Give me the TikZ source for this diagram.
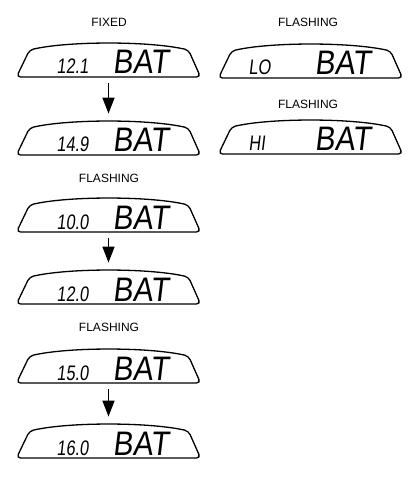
\documentclass[tikz,border=0pt]{standalone}
\usepackage{fontspec}
\setmainfont{Liberation Sans}
\newfontfamily\lcddigits[FakeSlant=0.12,FakeStretch=0.78]{Liberation Sans}
\newfontfamily\lcdword[FakeSlant=0.12,FakeStretch=0.88]{Liberation Sans}
\usetikzlibrary{arrows.meta}
\tikzset{
  panel/.style={minimum width=184pt,minimum height=34pt,inner sep=0pt,anchor=south},
  outline/.style={line width=1.3pt,rounded corners=4pt},
  state/.style={font=\fontsize{12}{14}\selectfont},
  flow/.style={line width=1.6pt,-{Triangle[length=16pt,width=12pt]},shorten <=6pt,shorten >=7pt}
}
% one LCD panel: name, bottom centre, left text, x offset of left text
\newcommand\lcdpanel[4]{%
  \node[panel] (#1) at (#2) {};
  \draw[outline,shift={(#1.south)}] (-92,0) -- (-79,-27)
    .. controls (-40,-36) and (40,-36) .. (80,-27) -- (92,0) -- cycle;
  \node[anchor=base west,inner sep=0pt,font=\lcddigits\fontsize{21}{21}\selectfont] (#1-v) at ([shift={(#4,-3)}]#1.south) {#3};
  \node[anchor=base west,inner sep=0pt,font=\lcdword\fontsize{34}{34}\selectfont] (#1-w) at ([shift={(4,-3)}]#1.south) {BAT};}
\begin{document}
\begin{tikzpicture}[x=1pt,y=-1pt]
\useasboundingbox (0,0) rectangle (418,478);
% left column
\node[state] (fixed) at (109,22) {FIXED};
\node[state] (flasha) at (109,178) {FLASHING};
\node[state] (flashb) at (109,327) {FLASHING};
\foreach \n/\y/\v in {d1/77/12.1,d2/155/14.9,d3/232/10.0,d4/304/12.0,d5/383/15.0,d6/458/16.0}
  \lcdpanel{\n}{108.5,\y}{\v}{-52};
% right column
\node[state] (flashlo) at (308,22) {FLASHING};
\node[state] (flashhi) at (308,104) {FLASHING};
\lcdpanel{lo}{310.5,78}{LO}{-62}
\lcdpanel{hi}{310.5,154}{HI}{-62}
% arrows
\draw[flow] (d1) -- (d2);
\draw[flow] (d3) -- (d4);
\draw[flow] (d5) -- (d6);
\end{tikzpicture}
\end{document}
